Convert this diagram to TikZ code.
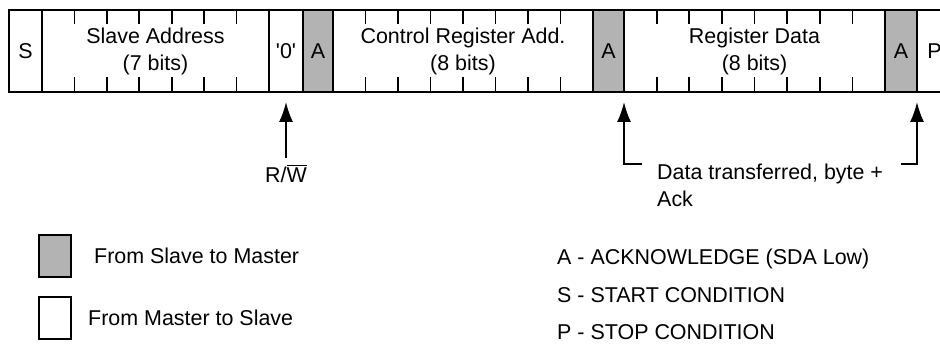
\documentclass[tikz,border=0pt]{standalone}
\usepackage{fontspec}
\setmainfont{Liberation Sans}
\usetikzlibrary{positioning, calc, arrows.meta}
\definecolor{ackgray}{RGB}{179,179,179}

\begin{document}
\begin{tikzpicture}[font=\fontsize{12.2}{15.4}\selectfont]
  \newcommand\cellheight{1.64}
  \newcommand\ticklen{0.28}
  \newcommand\ptrgap{0.2}
  \newcommand\keyspacing{0.73}

  \tikzset{cell/.style={draw, line width=1pt, minimum height=\cellheight cm, inner sep=0pt, outer sep=0pt, align=center}}
  \tikzset{ackcell/.style={cell, fill=ackgray}}
  \tikzset{legbox/.style={minimum width=0.64cm, minimum height=0.84cm}}
  \tikzset{ptr/.style={-{Latex[length=0.4cm, width=0.28cm]}, line width=1pt}}

  \useasboundingbox (0, 0) rectangle (18.8, -6.94);

  % frame
  \node[cell, minimum width=0.66cm, anchor=west] at (0.18, -1.02) (start) {S};
  \foreach \name/\style/\width/\lbl [remember=\name as \prev (initially start)] in {slave/cell/4.54/Slave Address\\(7 bits), zero/cell/0.68/\textquotesingle 0\textquotesingle, ack1/ackcell/0.60/A, ctrl/cell/5.20/Control Register Add.\\(8 bits), ack2/ackcell/0.62/A, data/cell/5.22/Register Data\\(8 bits), ack3/ackcell/0.64/A, stop/cell/0.70/P}{
    \node[\style, minimum width=\width cm, right=0pt of \prev] (\name) {\lbl};
  }

  % bit ticks
  \foreach \field/\bits in {slave/7, ctrl/8, data/8}{
    \pgfmathtruncatemacro\lastbit{\bits-1}
    \foreach \k in {1,...,\lastbit}{
      \draw[line width=1pt] ($(\field.north west)!\k/\bits!(\field.north east)$) -- ++(0, -\ticklen);
      \draw[line width=1pt] ($(\field.south west)!\k/\bits!(\field.south east)$) -- ++(0, \ticklen+0.02);
    }
  }

  % pointers
  \node[below=1.32cm of zero] (rw) {R/$\overline{\mbox{W}}$};
  \draw[ptr] (rw) -- ([yshift=-\ptrgap cm]zero.south);

  \node[anchor=west, align=left] at (13.02, -3.70) (xfer) {Data transferred, byte +\\Ack};
  \coordinate (xferl) at (12.84, -3.28);
  \coordinate (xferr) at (18.02, -3.28);
  \draw[ptr] (xferl) -| ([yshift=-\ptrgap cm]ack2.south east);
  \draw[ptr] (xferr) -| ([yshift=-\ptrgap cm]ack3.south east);

  % legend
  \node[ackcell, legbox] at (1.10, -5.12) (leg-slave) {};
  \node[cell, legbox, below=0.4cm of leg-slave] (leg-master) {};
  \node[right=0.34cm of leg-slave] (leg-slave-t) {From Slave to Master};
  \node[right=0.22cm of leg-master] (leg-master-t) {From Master to Slave};

  \node[anchor=west] at (11.02, -5.18) (key-a) {A - ACKNOWLEDGE (SDA Low)};
  \foreach \key/\txt [remember=\key as \prevkey (initially a)] in {s/S - START CONDITION, p/P - STOP CONDITION}{
    \node[below=\keyspacing cm of key-\prevkey.west, anchor=west] (key-\key) {\txt};
  }
\end{tikzpicture}
\end{document}
